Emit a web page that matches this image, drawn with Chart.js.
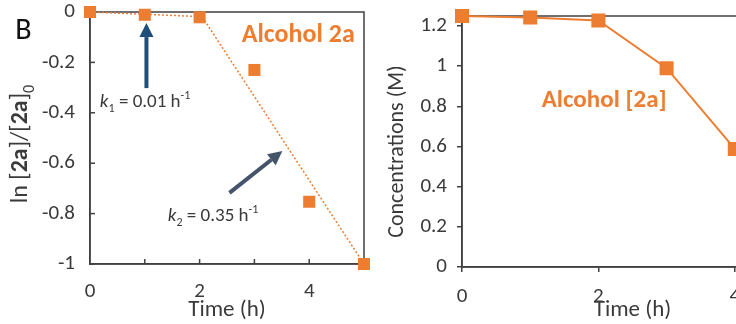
<!DOCTYPE html>
<html><head><meta charset="utf-8">
<script src="https://cdn.jsdelivr.net/npm/chart.js@4/dist/chart.umd.min.js"></script>
<style>
html,body{margin:0;padding:0;width:736px;height:324px;overflow:hidden;background:#fff;}
#left{position:absolute;left:0;top:0;width:380px;height:324px;}
#right{position:absolute;left:380px;top:0;width:440px;height:324px;}
canvas{display:block;}
</style></head><body>
<div id="left"><canvas id="c1" width="380" height="324"></canvas></div>
<div id="right"><canvas id="c2" width="440" height="324"></canvas></div>
<script>
// ---- data ----
const timeH = [0, 1, 2, 3, 4, 5];
const lnRatio = [0, -0.011, -0.021, -0.23, -0.753, -1.0];
const fit1X = [0, 2];
const fit1Y = [0, -0.018];
const fit2X = [2.05, 5];
const fit2Y = [-0.02, -1.0];
const concTime = [0, 1, 2, 3, 4];
const concAlcohol = [1.25, 1.243, 1.228, 0.99, 0.588];
// ---- tick labels ----
const leftXLabels = [0, 2, 4];
const leftXMarks = [1, 2, 3, 4];
const leftYTicks = [0, -0.2, -0.4, -0.6, -0.8, -1];
const rightXLabels = [0, 2, 4];
const rightYTicks = [0, 0.2, 0.4, 0.6, 0.8, 1, 1.2];

const ORANGE = '#ED7D31';
const TEXT = '#3a3a3a';
const AXIS = '#404040';
const FONT = 'Carlito, Lato, sans-serif';
Chart.defaults.font.family = FONT;
Chart.defaults.color = TEXT;

function pts(xs, ys){ return xs.map((x,i)=>({x:x, y:ys[i]})); }
function noPad(s){ s.paddingTop = 0; s.paddingBottom = 0; s.paddingLeft = 0; s.paddingRight = 0; }

function richText(ctx, x, y, segs, size, color, align){
  let total = 0;
  const m = segs.map(s=>{
    const sz = (s.sub||s.sup) ? Math.round(size*0.65) : size;
    const f = (s.italic?'italic ':'') + (s.bold?'bold ':'') + sz + 'px ' + FONT;
    ctx.font = f;
    const w = ctx.measureText(s.t).width;
    total += w;
    return {f:f, w:w, dy: s.sub ? size*0.28 : (s.sup ? -size*0.42 : 0), t:s.t};
  });
  let cx = align === 'center' ? x - total/2 : x;
  ctx.fillStyle = color;
  ctx.textBaseline = 'alphabetic';
  ctx.textAlign = 'left';
  m.forEach(s=>{ ctx.font = s.f; ctx.fillText(s.t, cx, y + s.dy); cx += s.w; });
}

function arrow(ctx, x1, y1, x2, y2, color){
  const ang = Math.atan2(y2-y1, x2-x1);
  const hl = 14, hw = 7;
  const bx = x2 - hl*Math.cos(ang), by = y2 - hl*Math.sin(ang);
  ctx.strokeStyle = color; ctx.lineWidth = 4; ctx.lineCap = 'butt';
  ctx.beginPath(); ctx.moveTo(x1,y1); ctx.lineTo(bx,by); ctx.stroke();
  ctx.fillStyle = color;
  ctx.beginPath();
  ctx.moveTo(x2,y2);
  ctx.lineTo(bx + hw*Math.sin(ang), by - hw*Math.cos(ang));
  ctx.lineTo(bx - hw*Math.sin(ang), by + hw*Math.cos(ang));
  ctx.closePath(); ctx.fill();
}

// ---- annotation anchors (data coordinates) ----
const leftNotes = {
  panel: {x: -1.364, y: -0.107},
  label: {x: 3.8, y: -0.119},
  k1: {x: 0.18, y: -0.376},
  k2: {x: 1.42, y: -0.829},
  arrow1: [{x:1.03, y:-0.302}, {x:1.03, y:-0.044}],
  arrow2: [{x:2.545, y:-0.718}, {x:3.51, y:-0.552}]
};
const rightNotes = { label: {x: 2.085, y: 0.799} };

const boxPlugin = {
  id: 'box',
  beforeDatasetsDraw(chart){
    const {ctx, chartArea:a} = chart;
    ctx.save();
    ctx.strokeStyle = AXIS; ctx.lineWidth = 1.5;
    ctx.strokeRect(a.left, a.top, a.right - a.left, a.bottom - a.top);
    ctx.restore();
  }
};

const leftPlugin = {
  id: 'leftDeco',
  beforeDatasetsDraw(chart){
    const {ctx, chartArea:a, scales:{x, y}} = chart;
    ctx.save();
    ctx.strokeStyle = AXIS; ctx.lineWidth = 1.5;
    leftXMarks.forEach(v=>{ const px = x.getPixelForValue(v); ctx.beginPath(); ctx.moveTo(px, a.bottom); ctx.lineTo(px, a.bottom-5); ctx.stroke(); });
    leftYTicks.forEach(v=>{ const py = y.getPixelForValue(v); ctx.beginPath(); ctx.moveTo(a.left, py); ctx.lineTo(a.left+5, py); ctx.stroke(); });
    const cy = (a.top + a.bottom)/2 + 6;
    ctx.translate(19, cy); ctx.rotate(-Math.PI/2);
    richText(ctx, 0, 8, [{t:'ln ['},{t:'2a',bold:true},{t:']/['},{t:'2a',bold:true},{t:']'},{t:'0',sub:true}], 24, TEXT, 'center');
    ctx.restore();
  },
  afterDatasetsDraw(chart){
    const {ctx, scales:{x, y}} = chart;
    const P = p => [x.getPixelForValue(p.x), y.getPixelForValue(p.y)];
    ctx.save();
    const a1 = leftNotes.arrow1.map(P), a2 = leftNotes.arrow2.map(P);
    arrow(ctx, a1[0][0], a1[0][1], a1[1][0], a1[1][1], '#1F4E79');
    arrow(ctx, a2[0][0], a2[0][1], a2[1][0], a2[1][1], '#44546A');
    let p = P(leftNotes.panel);
    richText(ctx, p[0], p[1], [{t:'B'}], 30, '#111111', 'left');
    p = P(leftNotes.label);
    richText(ctx, p[0], p[1], [{t:'Alcohol 2a', bold:true}], 26, ORANGE, 'center');
    p = P(leftNotes.k1);
    richText(ctx, p[0], p[1], [{t:'k',italic:true},{t:'1',sub:true},{t:' = 0.01 h'},{t:'-1',sup:true}], 19, TEXT, 'left');
    p = P(leftNotes.k2);
    richText(ctx, p[0], p[1], [{t:'k',italic:true},{t:'2',sub:true},{t:' = 0.35 h'},{t:'-1',sup:true}], 19, TEXT, 'left');
    ctx.restore();
  }
};

const rightPlugin = {
  id: 'rightDeco',
  beforeDatasetsDraw(chart){
    const {ctx, chartArea:a} = chart;
    ctx.save();
    const cy = (a.top + a.bottom)/2 + 10;
    ctx.translate(15, cy); ctx.rotate(-Math.PI/2);
    richText(ctx, 0, 8, [{t:'Concentrations (M)'}], 22, TEXT, 'center');
    ctx.restore();
  },
  afterDatasetsDraw(chart){
    const {ctx, scales:{x, y}} = chart;
    ctx.save();
    const p = [x.getPixelForValue(rightNotes.label.x), y.getPixelForValue(rightNotes.label.y)];
    richText(ctx, p[0], p[1], [{t:'Alcohol [2a]', bold:true}], 25, ORANGE, 'center');
    ctx.restore();
  }
};

new Chart(document.getElementById('c1'), {
  type: 'scatter',
  data: { datasets: [
    { data: pts(timeH, lnRatio), pointStyle: 'rect', pointRadius: 8.5, pointHoverRadius: 8.5,
      backgroundColor: ORANGE, borderColor: ORANGE, borderWidth: 0, showLine: false, clip: false, order: 0 },
    { data: pts(fit1X, fit1Y), showLine: true, borderColor: ORANGE, borderWidth: 1.5, borderDash: [2,2],
      pointRadius: 0, clip: false, order: 1 },
    { data: pts(fit2X, fit2Y), showLine: true, borderColor: ORANGE, borderWidth: 1.5, borderDash: [2,2],
      pointRadius: 0, clip: false, order: 1 }
  ]},
  options: {
    responsive: false, animation: false, devicePixelRatio: 1,
    layout: { padding: { top: 12, right: 16, left: 0, bottom: 0 } },
    plugins: { legend: { display: false }, tooltip: { enabled: false } },
    scales: {
      x: { type: 'linear', min: 0, max: 5,
        afterFit: s => { s.height = 60; noPad(s); },
        afterBuildTicks: s => { s.ticks = leftXLabels.map(v => ({value: v})); },
        ticks: { font: { size: 21 }, color: TEXT, padding: 15, maxRotation: 0, autoSkip: false, callback: v => String(v) },
        grid: { drawOnChartArea: false, drawTicks: false, color: AXIS },
        border: { color: AXIS, width: 1.5 },
        title: { display: true, text: 'Time (h)', font: { size: 23 }, color: TEXT, padding: 0 } },
      y: { type: 'linear', min: -1, max: 0,
        afterFit: s => { s.width = 90; noPad(s); },
        afterBuildTicks: s => { s.ticks = leftYTicks.map(v => ({value: v})); },
        ticks: { font: { size: 21 }, color: TEXT, padding: 15, autoSkip: false, callback: v => String(v) },
        grid: { drawOnChartArea: false, drawTicks: false, color: AXIS },
        border: { color: AXIS, width: 1.5 } }
    }
  },
  plugins: [boxPlugin, leftPlugin]
});

new Chart(document.getElementById('c2'), {
  type: 'scatter',
  data: { datasets: [
    { data: pts(concTime, concAlcohol), pointStyle: 'rect', pointRadius: 8.5, pointHoverRadius: 8.5,
      backgroundColor: ORANGE, borderColor: ORANGE, borderWidth: 2, showLine: true, clip: false }
  ]},
  options: {
    responsive: false, animation: false, devicePixelRatio: 1,
    layout: { padding: { top: 16, right: 17, left: 0, bottom: 0 } },
    plugins: { legend: { display: false }, tooltip: { enabled: false } },
    scales: {
      x: { type: 'linear', min: 0, max: 5,
        afterFit: s => { s.height = 57; noPad(s); },
        afterBuildTicks: s => { s.ticks = rightXLabels.map(v => ({value: v})); },
        ticks: { font: { size: 21 }, color: TEXT, padding: 12, maxRotation: 0, autoSkip: false, callback: v => String(v) },
        grid: { drawOnChartArea: false, drawTicks: true, tickLength: 5, color: AXIS, lineWidth: 1.5 },
        border: { color: AXIS, width: 1.5 },
        title: { display: true, text: 'Time (h)', font: { size: 23 }, color: TEXT, padding: 0 } },
      y: { type: 'linear', min: 0, max: 1.25,
        afterFit: s => { s.width = 82; noPad(s); },
        afterBuildTicks: s => { s.ticks = rightYTicks.map(v => ({value: v})); },
        ticks: { font: { size: 21 }, color: TEXT, padding: 10, autoSkip: false, callback: v => String(v) },
        grid: { drawOnChartArea: false, drawTicks: true, tickLength: 5, color: AXIS, lineWidth: 1.5 },
        border: { color: AXIS, width: 1.5 } }
    }
  },
  plugins: [boxPlugin, rightPlugin]
});
</script>
</body></html>
